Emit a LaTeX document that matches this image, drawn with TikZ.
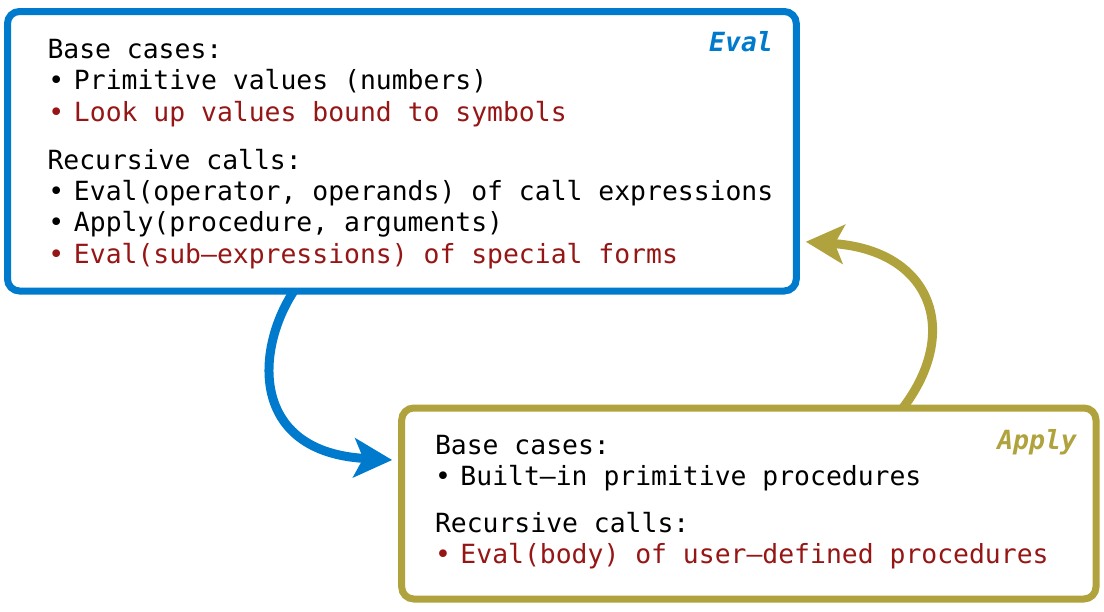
\documentclass[tikz,border=0pt]{standalone}
\usepackage{fontspec}
\setmonofont{DejaVu Sans Mono}
\usetikzlibrary{arrows.meta}
\definecolor{evalblue}{RGB}{0,122,204}
\definecolor{applyolive}{RGB}{176,163,61}
\definecolor{specialred}{RGB}{150,22,22}
\newcommand{\bul}{\makebox[25.5pt][l]{•}}
\begin{document}
\begin{tikzpicture}[x=1pt,y=-1pt,
  every node/.append style={font=\ttfamily\fontsize{26.4}{31}\selectfont},
  panel/.style={draw, fill=white, line width=7pt, rounded corners=12pt, inner sep=0pt},
  evalpanel/.style={panel, draw=evalblue, minimum width=788.8pt, minimum height=279.5pt},
  applypanel/.style={panel, draw=applyolive, minimum width=694.3pt, minimum height=191pt},
  txt/.style={anchor=base west, inner sep=0pt, outer sep=0pt},
  redtxt/.style={txt, text=specialred},
  ttl/.style={anchor=base east, inner sep=0pt, font=\ttfamily\bfseries\itshape\fontsize{26.4}{31}\selectfont},
  flow/.style={line width=9pt, -{Stealth[length=38pt, width=39pt, inset=9pt]}}
]
\useasboundingbox (0,0) rectangle (1104,611);

\node[evalpanel] (eval) at (401.9,151.25) {};
\node[applypanel] (apply) at (748.85,503.5) {};

\draw[flow, evalblue] ([xshift=-108pt,yshift=3.5pt]eval.south)
  .. controls (255,350) and (250,452) .. ([xshift=-6pt,yshift=43.5pt]apply.west);
\draw[flow, applyolive] ([xshift=154pt,yshift=-3.5pt]apply.north)
  .. controls (962,330) and (930,250) .. ([xshift=6pt,yshift=-90.5pt]eval.east);

% Eval panel text
\node[ttl, text=evalblue] (evalttl) at (773,51.7) {Eval};
\node[txt] (e1) at (47.5,58) {Base cases:};
\node[txt] (e2) at (48.5,89.5) {\bul Primitive values (numbers)};
\node[redtxt] (e3) at (48.5,121) {\bul Look up values bound to symbols};
\node[txt] (e4) at (47.5,169.5) {Recursive calls:};
\node[txt] (e5) at (48.5,200.5) {\bul Eval(operator, operands) of call expressions};
\node[txt] (e6) at (48.5,231.5) {\bul Apply(procedure, arguments)};
\node[redtxt] (e7) at (48.5,263) {\bul Eval(sub–expressions) of special forms};

% Apply panel text
\node[ttl, text=applyolive] (applyttl) at (1077,449.3) {Apply};
\node[txt] (a1) at (435,454) {Base cases:};
\node[txt] (a2) at (435,485) {\bul Built–in primitive procedures};
\node[txt] (a3) at (435,532) {Recursive calls:};
\node[redtxt] (a4) at (435,563.5) {\bul Eval(body) of user–defined procedures};
\end{tikzpicture}
\end{document}
